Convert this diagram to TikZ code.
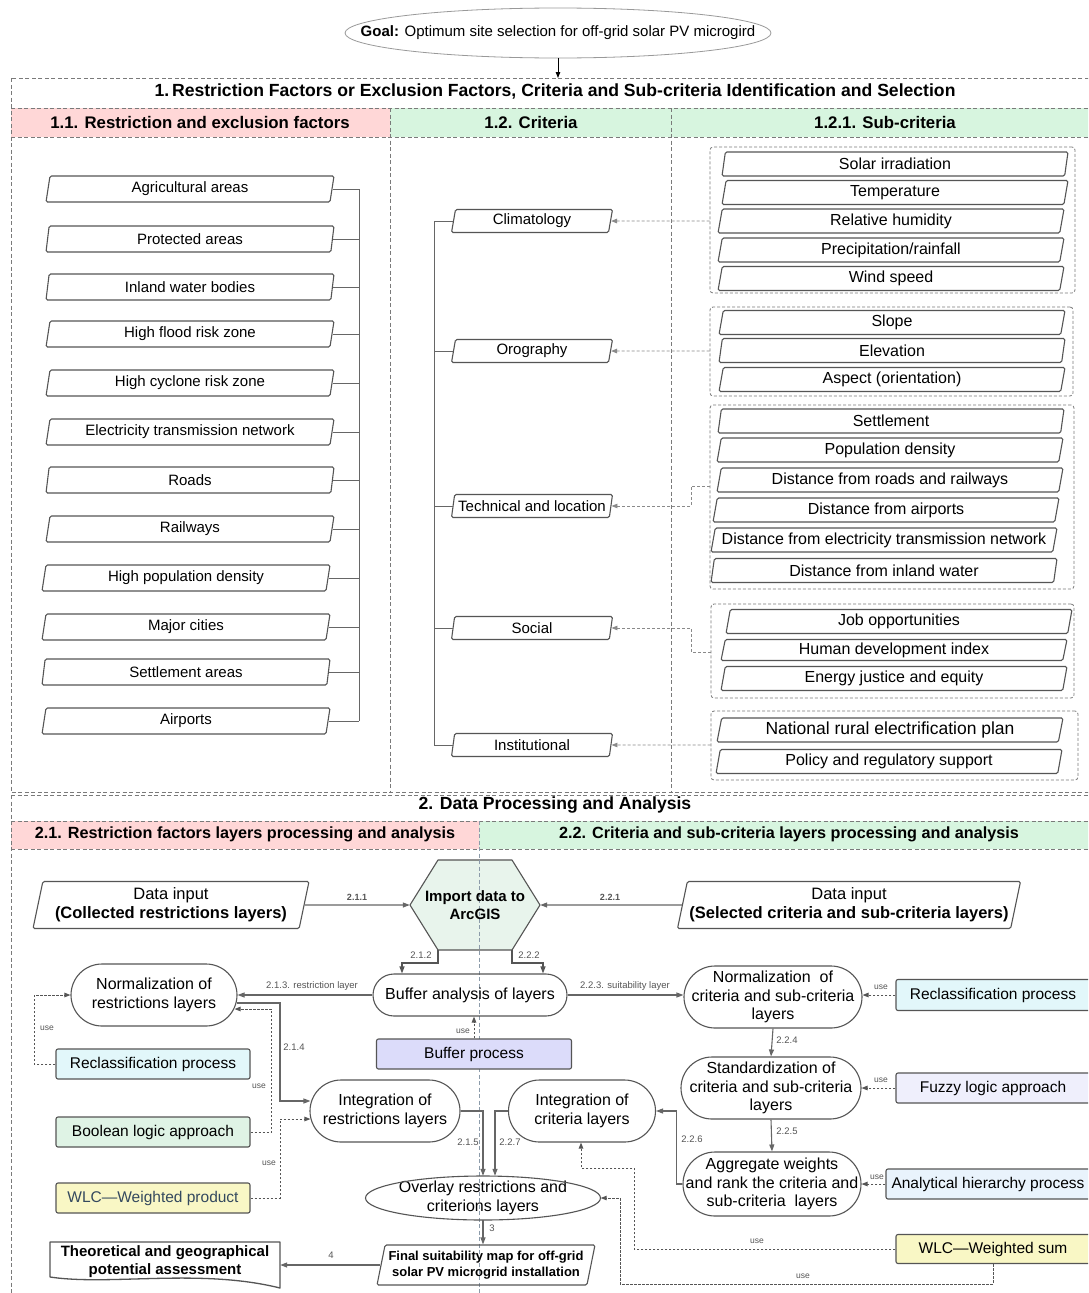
\documentclass[tikz,border=0pt]{standalone}
\usepackage{fontspec}
\setmainfont{Liberation Sans}
\usetikzlibrary{shapes.geometric,arrows.meta,calc}
\definecolor{bcol}{HTML}{555555}
\definecolor{lcol}{HTML}{666666}
\definecolor{dcol}{HTML}{8A8A8A}
\definecolor{pinkh}{HTML}{FFD7D7}
\definecolor{greenh}{HTML}{D7F5DF}
\definecolor{hexf}{HTML}{E8F4EC}
\definecolor{cyanf}{HTML}{E2F7FA}
\definecolor{boolf}{HTML}{DFF3E5}
\definecolor{yelf}{HTML}{F9F7C5}
\definecolor{lavf}{HTML}{DCDCFA}
\definecolor{fuzf}{HTML}{EFEFFC}
\definecolor{ahpf}{HTML}{E9F3FC}
\definecolor{secc}{HTML}{7A7A7A}
\definecolor{midc}{HTML}{8C9BAA}
\definecolor{labc}{HTML}{555555}
\definecolor{wlcc}{HTML}{34495E}
\newcommand\fsz[2]{\fontsize{#1pt}{#2pt}\selectfont}
\tikzset{
 para/.style={trapezium, trapezium left angle=74, trapezium right angle=106, trapezium stretches body=true, draw=bcol, line width=1.1pt, rounded corners=1.5pt, inner sep=0pt, align=center},
 lpara/.style={para, minimum width=288, minimum height=26, font=\fsz{15}{18}},
 cpara/.style={para, minimum width=161, minimum height=23, font=\fsz{15}{18}},
 spara/.style={para, minimum width=346, minimum height=24, font=\fsz{16}{19}},
 grp/.style={draw=secc, line width=0.8pt, rounded corners=3pt, dash pattern=on 3pt off 2pt},
 sec/.style={draw=secc, line width=0.9pt, dash pattern=on 4pt off 2.5pt},
 hdr/.style={font=\bfseries\fsz{16.8}{19}, inner sep=0pt},
 hdrb/.style={font=\bfseries\fsz{16.2}{19}, inner sep=0pt},
 ttl/.style={font=\bfseries\fsz{17.6}{20}, inner sep=0pt},
 stad/.style={rectangle, draw=bcol, line width=1.1pt, align=center, font=\fsz{16}{18.5}, inner sep=0pt},
 rbox/.style={rectangle, draw=bcol, line width=1.1pt, rounded corners=2pt, font=\fsz{15.5}{18}, inner sep=0pt},
 arr/.style={draw=lcol, line width=1.1pt, -{Triangle[length=7pt,width=5pt]}},
 darr/.style={draw=dcol, line width=0.9pt, dash pattern=on 3pt off 2pt, -{Triangle[length=6pt,width=4.5pt]}},
 usearr/.style={draw=bcol, line width=1pt, dash pattern=on 2.5pt off 1.5pt, -{Triangle[length=6pt,width=4.5pt]}},
 lab/.style={font=\fsz{9.5}{11}, text=labc, inner sep=0pt},
 blab/.style={font=\bfseries\fsz{9}{11}, text=labc, inner sep=0pt},
 ulab/.style={font=\fsz{8.5}{10}, text=labc, inner sep=0pt},
 link/.style={draw=lcol, line width=0.9pt},
}
\begin{document}
\begin{tikzpicture}[x=1pt,y=-1pt]
\clip (0,0) rectangle (1088,1293);
\fill[white] (0,0) rectangle (1088,1293);

% ---------- header fills ----------
\fill[pinkh] (11,108) rectangle (390,137);
\fill[greenh] (390,108) rectangle (1100,137);
\fill[pinkh] (11,821) rectangle (479,849);
\fill[greenh] (479,821) rectangle (1100,849);

% hexagon fill (under the middle line)
\draw[draw=bcol, fill=hexf, line width=1.1pt, line join=round] (410,905) -- (438,860) -- (512,860) -- (540,905) -- (512,950) -- (438,950) -- cycle;
\coordinate (hbl) at (438,950);
\coordinate (hbr) at (512,950);

% ---------- section frames ----------
\draw[sec] (11,78) rectangle (1100,792);
\draw[sec] (11,108) -- (1100,108);
\draw[sec] (11,137) -- (1100,137);
\draw[sec] (390,108) -- (390,792);
\draw[sec] (671,108) -- (671,792);
\draw[sec] (11,795) -- (1100,795);
\draw[sec] (11,795) -- (11,1300);
\draw[sec] (11,821) -- (1100,821);
\draw[sec] (11,849) -- (1100,849);
\draw[draw=midc, line width=0.9pt, dash pattern=on 4pt off 2.5pt] (479,821) -- (479,1300);

% ---------- goal ----------
\node[minimum width=426, minimum height=50, inner sep=0pt, font=\fsz{15}{18}] (goal) at (558,33) {\textbf{Goal:} Optimum site selection for off-grid solar PV microgird};
\draw[draw=bcol!60, line width=0.8pt] (goal.center) ellipse [x radius=213, y radius=25];
\coordinate (s1top) at (558,78);
\draw[black, line width=1pt, -{Triangle[length=6pt,width=4.5pt]}] (goal.south) -- (s1top);

% ---------- titles ----------
\node[ttl] (t1) at (555,91) {1.\,Restriction Factors or Exclusion Factors, Criteria and Sub-criteria Identification and Selection};
\node[hdr] (h11) at (200,122) {1.1. Restriction and exclusion factors};
\node[hdr] (h12) at (531,122) {1.2. Criteria};
\node[hdr] (h121) at (885,122) {1.2.1. Sub-criteria};
\node[ttl] (t2) at (555,805) {2. Data Processing and Analysis};
\node[hdrb] (h21) at (245,834) {2.1. Restriction factors layers processing and analysis};
\node[hdrb] (h22) at (789,834) {2.2. Criteria and sub-criteria layers processing and analysis};

% ---------- restriction list ----------
\foreach \i/\cx/\y/\t in {1/190/189/{Agricultural areas}, 2/190/239/{Protected areas}, 3/190/287/{Inland water bodies}, 4/190/334/{High flood risk zone}, 5/190/383/{High cyclone risk zone}, 6/190/432/{Electricity transmission network}, 7/190/480/{Roads}, 8/190/529/{Railways}, 9/186/578/{High population density}, 10/186/627/{Major cities}, 11/186/672/{Settlement areas}, 12/186/721/{Airports}}
  \node[lpara] (l\i) at (\cx,\y) {\t};
\coordinate (lbr) at (359,0);
\foreach \i in {1,...,12} \draw[link] (l\i.east) -- (l\i.east -| lbr);
\draw[link] (l1.east -| lbr) -- (l12.east -| lbr);

% ---------- criteria ----------
\foreach \i/\y/\t in {1/221/{Climatology}, 2/351/{Orography}, 3/506/{Technical and location}, 4/628/{Social}, 5/745/{Institutional}}
  \node[cpara] (c\i) at (532,\y) {\t};
\coordinate (cbr) at (434,0);
\foreach \i in {1,...,5} \draw[link] (c\i.west) -- (c\i.west -| cbr);
\draw[link] (c1.west -| cbr) -- (c5.west -| cbr);

% ---------- sub-criteria groups ----------
\node[grp, minimum width=365, minimum height=146] (g1) at (892.5,220) {};
\node[grp, minimum width=363, minimum height=89] (g2) at (891.5,351.5) {};
\node[grp, minimum width=364, minimum height=184] (g3) at (892,497) {};
\node[grp, minimum width=363, minimum height=94] (g4) at (892.5,651) {};
\node[grp, minimum width=367, minimum height=69] (g5) at (894.5,745.5) {};

\foreach \i/\cx/\y/\t in {1/895/164/{Solar irradiation}, 2/895/192.5/{Temperature}, 3/891/221/{Relative humidity}, 4/891/250/{Precipitation/rainfall}, 5/891/278.5/{Wind speed}, 6/892/322.5/{Slope}, 7/892/350.5/{Elevation}, 8/892/379.5/{Aspect (orientation)}, 9/891/421/{Settlement}, 10/890/450/{Population density}, 11/890/480/{Distance from roads and railways}, 12/886/510/{Distance from airports}, 13/884/540/{Distance from electricity transmission network}, 14/884/570.5/{Distance from inland water}, 15/899/621.5/{Job opportunities}, 17/894/678.5/{Energy justice and equity}, 19/889/761.5/{Policy and regulatory support}}
  \node[spara] (s\i) at (\cx,\y) {\t};
\node[spara, minimum height=21] (s16) at (894,650) {Human development index};
\node[spara, font=\fsz{17.5}{20}] (s18) at (890,730) {National rural electrification plan};

\draw[darr] (g1.west |- c1) -- (c1.east);
\draw[darr] (g2.west |- c2) -- (c2.east);
\draw[darr] (g3.west |- 0,486) -- (691,486) |- (c3.east);
\draw[darr] (g4.west |- 0,652) -- (691,652) |- (c4.east);
\draw[darr] (g5.west |- c5) -- (c5.east);

% ---------- section 2 ----------
\node[para, minimum width=276, minimum height=47, font=\fsz{16.5}{19}] (din1) at (171,905) {Data input\\\textbf{(Collected restrictions layers)}};
\node[para, minimum width=343, minimum height=47, font=\fsz{16.5}{19}] (din2) at (849,905) {Data input\\\textbf{(Selected criteria and sub-criteria layers)}};
\node[font=\bfseries\fsz{15}{18}, align=center, minimum width=130, minimum height=90, inner sep=0pt] (hex) at (475,905) {Import data to\\ArcGIS};

\draw[arr] (din1.east) -- (hex.west);
\node[blab] at (357,897) {2.1.1};
\draw[arr] (din2.west) -- (hex.east);
\node[blab] at (610,897) {2.2.1};

\node[stad, minimum width=194, minimum height=42, rounded corners=21pt] (buf) at (470,995) {Buffer analysis of layers};
\draw[arr, draw=bcol] (hbl) -- ++(0,13) -| ([xshift=-68pt]buf.north);
\draw[arr, draw=bcol] (hbr) -- ++(0,13) -| ([xshift=73pt]buf.north);
\node[lab] at (421,955) {2.1.2};
\node[lab] at (529,955) {2.2.2};

\node[stad, minimum width=166, minimum height=62, rounded corners=31pt] (normr) at (154,995) {Normalization of\\restrictions layers};
\node[stad, minimum width=178, minimum height=62, rounded corners=31pt] (normc) at (773,997) {Normalization\ \ of\\criteria and sub-criteria\\layers};
\draw[arr] (buf.west) -- (buf.west -| normr.east);
\node[lab] at (312,986) {2.1.3. restriction layer};
\draw[arr] (buf.east) -- (buf.east -| normc.west);
\node[lab] at (625,986) {2.2.3. suitability layer};

\node[rbox, fill=lavf, minimum width=195, minimum height=30] (bufp) at (474,1054) {Buffer process};
\draw[usearr] (bufp.north) -- (bufp.north |- buf.south);
\node[ulab] at (463,1031) {use};

\node[rbox, fill=cyanf, minimum width=194, minimum height=30] (recl) at (153,1064) {Reclassification process};
\node[rbox, fill=boolf, minimum width=194, minimum height=30] (bool) at (153,1132) {Boolean logic approach};
\node[rbox, fill=yelf, minimum width=194, minimum height=30, text=wlcc] (wlcp) at (153,1198) {WLC—Weighted product};

\node[stad, minimum width=150, minimum height=62, rounded corners=31pt] (intr) at (385,1111) {Integration of\\restrictions layers};
\node[stad, minimum width=147, minimum height=62, rounded corners=31pt] (intc) at (582,1111) {Integration of\\criteria layers};

\draw[usearr] (recl.west) -- ++(-21,0) |- (normr.west);
\node[ulab] at (47,1028) {use};
\draw[usearr] (bool.east) -- ++(21,0) |- ($(normr.east)+(-3,14)$);
\node[ulab] at (259,1086) {use};
\draw[arr] ($(normr.east)+(-1,8)$) -- (280,1003) |- ($(intr.west)+(1,-10)$);
\node[lab] at (294,1047) {2.1.4};
\draw[usearr] (wlcp.east) -- (280,1198) |- ($(intr.west)+(1,8)$);
\node[ulab] at (269,1163) {use};

\node[minimum width=235, minimum height=44, inner sep=0pt, align=center, font=\fsz{16}{18.5}] (ovl) at (483,1198) {Overlay restrictions and\\criterions layers};
\draw[draw=bcol, line width=1.1pt] (ovl.center) ellipse [x radius=117.5, y radius=22];
\draw[arr] (intr.east) -| (ovl.north);
\draw[arr] (intc.west) -| ([xshift=12pt]ovl.north);
\node[lab] at (468,1142) {2.1.5};
\node[lab] at (510,1142) {2.2.7};

\node[stad, minimum width=180, minimum height=62, rounded corners=31pt] (std) at (771,1088) {Standardization of\\criteria and sub-criteria\\layers};
\node[stad, minimum width=178, minimum height=64, rounded corners=32pt] (agg) at (772,1184) {Aggregate weights\\and rank the criteria and\\sub-criteria\ \ layers};
\draw[arr] (normc.south) -- (std.north);
\node[lab] at (787,1040) {2.2.4};
\draw[arr] (std.south) -- (agg.north);
\node[lab] at (787,1131) {2.2.5};
\draw[arr] (agg.west) -- ++(-6,0) |- (intc.east);
\node[lab] at (692,1139) {2.2.6};

\node[rbox, fill=cyanf, minimum width=194, minimum height=31] (recr) at (993,995) {Reclassification process};
\node[rbox, fill=fuzf, minimum width=194, minimum height=30] (fuzz) at (993,1088) {Fuzzy logic approach};
\node[rbox, fill=ahpf, minimum width=204, minimum height=30] (ahp) at (988,1184) {Analytical hierarchy process};
\node[rbox, fill=yelf, minimum width=194, minimum height=29] (wlcs) at (993,1249) {WLC—Weighted sum};
\draw[usearr] (recr.west) -- (recr.west -| normc.east);
\node[ulab] at (881,987) {use};
\draw[usearr] (fuzz.west) -- (fuzz.west -| std.east);
\node[ulab] at (881,1080) {use};
\draw[usearr] (ahp.west) -- (ahp.west -| agg.east);
\node[ulab] at (877,1177) {use};
\draw[usearr] (wlcs.west) -- (634,1249) -- (634,1168) -| ([xshift=-1pt]intc.south);
\node[ulab] at (757,1241) {use};
\draw[usearr] (wlcs.south) |- (620,1284) |- (ovl.east);
\node[ulab] at (803,1276) {use};

\node[para, minimum width=218, minimum height=40, font=\bfseries\fsz{13}{16}] (fin) at (486,1265) {Final suitability map for off-grid\\solar PV microgrid installation};
\draw[arr] (ovl.south) -- (ovl.south |- fin.north);
\node[lab] at (492,1228) {3};

\node[font=\bfseries\fsz{15}{18}, align=center, minimum width=230, minimum height=46, inner sep=0pt] (th) at (165,1262) {Theoretical and geographical\\potential assessment};
\draw[draw=bcol, line width=1.3pt, line join=round] (50,1242) -- (280,1242) -- (280,1288) .. controls (200,1268) and (110,1286) .. (50,1277) -- cycle;
\draw[arr] (fin.west) -- (fin.west -| th.east);
\node[lab] at (331,1255) {4};
\end{tikzpicture}
\end{document}
